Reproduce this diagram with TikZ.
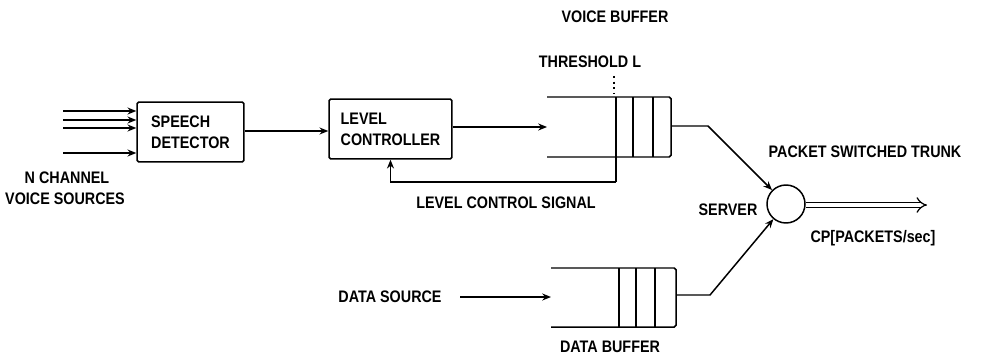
\documentclass[tikz,border=0pt]{standalone}
\usepackage{fontspec}
\setmainfont[FakeStretch=0.86]{Liberation Sans}
\usetikzlibrary{arrows.meta}
\begin{document}
\begin{tikzpicture}[x=0.02cm,y=-0.02cm,
  line width=0.85pt,
  every node/.style={font=\bfseries\fontsize{9.5}{12}\selectfont, inner sep=0pt, align=center},
  block/.style={draw, rounded corners=1pt, minimum width=#1, minimum height=1.2cm, align=left},
  arr/.style={-{Stealth[length=5pt,width=4pt]}}]
\useasboundingbox (0,0) rectangle (1000,358);

% processing blocks
\node[block=2.14cm] (sd) at (190.5,132) {SPEECH\\DETECTOR};
\node[block=2.46cm] (lc) at (390.5,129) {LEVEL\\CONTROLLER};
\node[draw, circle, minimum size=0.76cm] (srv) at (786,204) {};

% voice buffer
\coordinate (vbtl) at (547,97);
\coordinate (vbbl) at (547,157);
\coordinate (vbin) at (547,127);
\coordinate (vbout) at (671,126);
\draw[rounded corners=1pt] (vbtl) -- (671,97) -- (671,157) -- (vbbl);
\draw (633,97) -- (633,157) (653,97) -- (653,157);
\coordinate (thr) at (616,182);
\draw (616,97) -- (thr);
\draw[dotted, line width=1.2pt] (614,76) -- (614,94);

% data buffer
\coordinate (dbin) at (551,297);
\coordinate (dbout) at (676,295);
\draw[rounded corners=1pt] (551,268) -- (676,268) -- (676,327) -- (551,327);
\draw (619,268) -- (619,327) (636,268) -- (636,327) (655,268) -- (655,327);

% voice inputs
\foreach \y [count=\i] in {111,120,128,153} {
  \coordinate (in\i) at (63,\y);
  \draw[arr] (in\i) -- (in\i -| sd.west);
}

% signal path
\draw[arr] (sd.east |- 0,131) -- (lc.west |- 0,131);
\draw[arr] (lc.east |- 0,127) -- (vbin);
\draw[arr] (thr) -| (lc.south);
\coordinate (vbk) at (708,126);
\draw[arr] (vbout) -- (vbk) -- (srv);
\coordinate (dbk) at (710,295);
\draw[arr] (dbout) -- (dbk) -- (srv);
\coordinate (ds) at (460,297);
\draw[arr] (ds) -- (dbin);
\coordinate (trunk) at (927,205);
\draw[double, double distance=2.4pt, line width=0.7pt, -{Implies}] (srv.east |- trunk) -- (trunk);

% labels
\node (l1) at (67,178) {N CHANNEL};
\node (l2) at (65,199) {VOICE SOURCES};
\node (l3) at (615,17) {VOICE BUFFER};
\node (l4) at (590,62) {THRESHOLD L};
\node (l5) at (506,203) {LEVEL CONTROL SIGNAL};
\node (l6) at (728,210) {SERVER};
\node (l7) at (865,152) {PACKET SWITCHED TRUNK};
\node (l8) at (873,238) {CP[PACKETS/sec]};
\node (l9) at (390,297) {DATA SOURCE};
\node (l10) at (610,347) {DATA BUFFER};
\end{tikzpicture}
\end{document}
